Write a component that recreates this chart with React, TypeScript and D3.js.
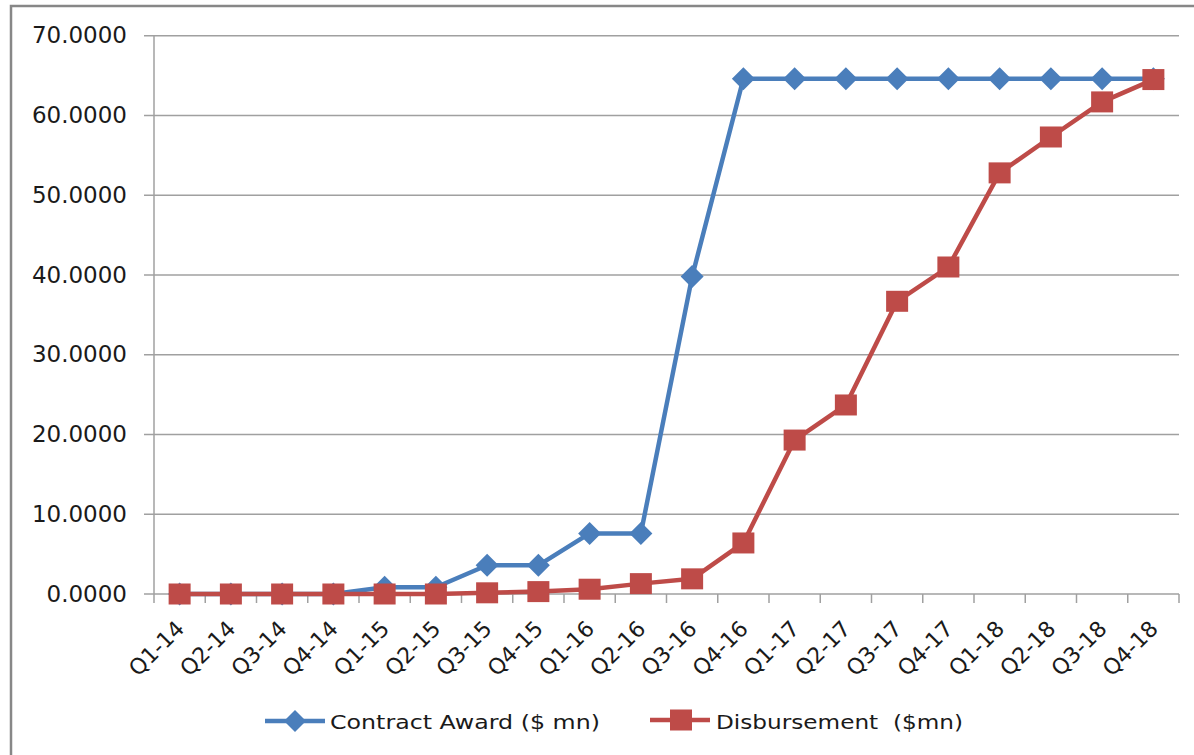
import React from "react";
import * as d3 from "d3";

const categories = [
  "Q1-14", "Q2-14", "Q3-14", "Q4-14",
  "Q1-15", "Q2-15", "Q3-15", "Q4-15",
  "Q1-16", "Q2-16", "Q3-16", "Q4-16",
  "Q1-17", "Q2-17", "Q3-17", "Q4-17",
  "Q1-18", "Q2-18", "Q3-18", "Q4-18",
];

const contractAward = [
  0, 0, 0, 0,
  0.85, 0.85, 3.6, 3.6,
  7.6, 7.6, 39.8, 64.6,
  64.6, 64.6, 64.6, 64.6,
  64.6, 64.6, 64.6, 64.6,
];

const disbursement = [
  0, 0, 0, 0,
  0, 0, 0.15, 0.3,
  0.6, 1.3, 1.9, 6.4,
  19.3, 23.7, 36.7, 41.0,
  52.8, 57.3, 61.7, 64.5,
];

const yTicks = [0, 10, 20, 30, 40, 50, 60, 70];

const seriesNames = ["Contract Award ($ mn)", "Disbursement  ($mn)"];
const seriesColors = ["#4A7EBB", "#BE4B48"];

export default function App() {
  const W = 1194;
  const H = 755;
  const left = 154;
  const right = 1179;
  const top = 35.7;
  const bottom = 594;

  const x = d3.scaleBand<string>().domain(categories).range([left, right]).padding(0);
  const y = d3.scaleLinear().domain([0, 70]).range([bottom, top]);
  const cx = (c: string) => (x(c) as number) + x.bandwidth() / 2;
  const fmt = d3.format(".4f");

  const line = d3
    .line<number>()
    .x((_, i) => cx(categories[i]))
    .y((d) => y(d));

  const diamond = (px: number, py: number, r: number) =>
    `M${px},${py - r}L${px + r},${py}L${px},${py + r}L${px - r},${py}Z`;

  const font = "'DejaVu Sans', sans-serif";
  const gridColor = "#a0a0a0";

  return (
    <svg
      width={W}
      height={H}
      style={{ position: "absolute", left: 0, top: 0, background: "#fff" }}
    >
      <rect x={0} y={0} width={W} height={H} fill="#fff" />
      <rect x={11} y={6} width={1300} height={900} fill="none" stroke="#878787" strokeWidth={2.5} />

      {/* gridlines */}
      {yTicks.map((t) => (
        <line key={"g" + t} x1={left - 10} x2={right} y1={y(t)} y2={y(t)} stroke={gridColor} strokeWidth={1.5} />
      ))}
      {/* y axis */}
      <line x1={left} x2={left} y1={top} y2={bottom} stroke={gridColor} strokeWidth={1.5} />
      {/* x ticks */}
      {categories.map((c) => (
        <line key={"t" + c} x1={x(c) as number} x2={x(c) as number} y1={bottom} y2={bottom + 9} stroke={gridColor} strokeWidth={1.5} />
      ))}
      <line x1={right} x2={right} y1={bottom} y2={bottom + 9} stroke={gridColor} strokeWidth={1.5} />

      {/* y labels */}
      {yTicks.map((t) => (
        <text key={"yl" + t} x={127} y={y(t) + 7.6} textAnchor="end" fontFamily={font} fontSize={23} fill="#1a1a1a">
          {fmt(t)}
        </text>
      ))}

      {/* x labels */}
      {categories.map((c) => (
        <text
          key={"xl" + c}
          transform={`translate(${cx(c) + 6},${630}) rotate(-45)`}
          textAnchor="end"
          fontFamily={font}
          fontSize={22}
          fill="#1a1a1a"
        >
          {c}
        </text>
      ))}

      {/* contract award */}
      <path d={line(contractAward) || ""} fill="none" stroke={seriesColors[0]} strokeWidth={4.5} strokeLinejoin="round" />
      {contractAward.map((v, i) => (
        <path key={"d" + i} d={diamond(cx(categories[i]), y(v), 11.5)} fill={seriesColors[0]} />
      ))}

      {/* disbursement */}
      <path d={line(disbursement) || ""} fill="none" stroke={seriesColors[1]} strokeWidth={4.5} strokeLinejoin="round" />
      {disbursement.map((v, i) => (
        <rect key={"s" + i} x={cx(categories[i]) - 11} y={y(v) - 10.5} width={22} height={21} fill={seriesColors[1]} />
      ))}

      {/* legend */}
      <line x1={265} x2={325} y1={721} y2={721} stroke={seriesColors[0]} strokeWidth={4.5} />
      <path d={diamond(295, 721, 11)} fill={seriesColors[0]} />
      <text x={330} y={729} fontFamily={font} fontSize={20} fill="#1a1a1a" textLength={270} lengthAdjust="spacingAndGlyphs">
        {seriesNames[0]}
      </text>

      <line x1={650} x2={710} y1={720} y2={720} stroke={seriesColors[1]} strokeWidth={4.5} />
      <rect x={670} y={709.5} width={22} height={21} fill={seriesColors[1]} />
      <text x={716} y={729} fontFamily={font} fontSize={20} fill="#1a1a1a" textLength={247} lengthAdjust="spacingAndGlyphs" style={{ whiteSpace: "pre" }}>
        {seriesNames[1]}
      </text>
    </svg>
  );
}
